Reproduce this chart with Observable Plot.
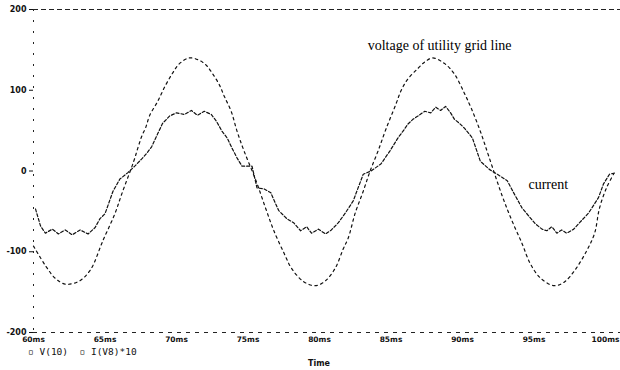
<!DOCTYPE html>
<html>
<head>
<meta charset="utf-8">
<script src="https://cdn.jsdelivr.net/npm/d3@7"></script>
<script src="https://cdn.jsdelivr.net/npm/@observablehq/plot@0.6"></script>
<style>
  body { margin: 0; background: white; width: 620px; height: 370px; overflow: hidden; }
  #legend { height: 12px; line-height: 12px; font-family: "DejaVu Sans Mono", monospace; font-size: 9.5px; padding-left: 28px; color: #111; white-space: pre; }
  #xlabel { height: 12px; line-height: 12px; font-family: "DejaVu Sans", sans-serif; font-size: 8px; font-weight: bold; color: #111; position: relative; left: 308px; }
</style>
</head>
<body>
<div id="chart"></div>
<div id="legend">▫ V(10)  ▫ I(V8)*10</div>
<div id="xlabel">Time</div>
<script>
// Series: voltage of the utility grid line, V(10)
const timeV = [60.00, 60.83, 61.53, 62.22, 63.13, 63.96, 64.86, 65.69, 66.18, 67.01, 67.29, 67.57, 67.85, 68.13, 68.68, 69.17, 69.72, 70.21, 70.90, 71.60, 72.08, 72.50, 72.99, 73.33, 73.82, 74.24, 74.72, 75.56, 76.25, 76.81, 77.50, 78.06, 78.89, 79.72, 80.42, 81.11, 81.67, 82.01, 82.50, 83.06, 83.54, 84.10, 84.65, 85.35, 85.69, 86.18, 86.88, 87.36, 87.92, 88.75, 89.44, 90.14, 90.63, 91.25, 91.88, 92.78, 93.47, 94.17, 94.72, 95.42, 96.39, 97.08, 97.85, 98.68, 99.24, 99.58, 100.07, 100.56];
const voltage = [-93, -117, -133, -140, -137, -123, -86, -53, -28, 12, 28, 43, 54, 69, 86, 104, 121, 133, 140, 137, 131, 121, 107, 93, 74, 49, 25, -12, -47, -74, -101, -121, -137, -142, -136, -120, -96, -83, -52, -25, 0, 25, 52, 83, 99, 114, 127, 135, 140, 133, 120, 96, 77, 49, 16, -31, -62, -90, -114, -132, -142, -138, -123, -99, -77, -46, -21, -4];

// Series: current, I(V8)*10
const timeI = [60.14, 60.49, 60.83, 61.32, 61.74, 62.22, 62.71, 63.26, 63.82, 64.31, 64.65, 65.00, 65.56, 66.04, 66.60, 67.08, 67.57, 67.92, 68.26, 68.68, 69.03, 69.51, 70.00, 70.56, 71.04, 71.46, 71.94, 72.43, 72.78, 73.19, 73.54, 73.89, 74.24, 74.58, 75.28, 75.63, 76.11, 76.60, 76.94, 77.15, 77.71, 78.19, 78.68, 79.10, 79.44, 79.93, 80.42, 80.83, 81.32, 81.81, 82.36, 82.57, 83.06, 83.61, 84.31, 84.93, 85.49, 85.83, 86.18, 86.53, 86.88, 87.36, 87.78, 88.13, 88.47, 88.82, 89.17, 89.44, 89.79, 90.14, 90.69, 91.25, 91.88, 92.43, 93.13, 93.61, 94.17, 94.65, 95.07, 95.56, 95.90, 96.25, 96.60, 96.94, 97.29, 97.78, 98.19, 98.82, 99.51, 99.86, 100.28, 100.76];
const current = [-47, -68, -77, -72, -78, -73, -79, -73, -78, -70, -59, -53, -25, -10, -2, 6, 15, 22, 30, 46, 59, 68, 72, 70, 75, 69, 74, 70, 62, 49, 41, 28, 16, 6, 6, -21, -22, -27, -41, -49, -59, -64, -74, -69, -77, -72, -78, -73, -64, -52, -37, -27, -4, 0, 9, 25, 41, 49, 58, 64, 68, 74, 72, 79, 75, 80, 72, 64, 59, 53, 41, 12, 2, -4, -12, -28, -46, -56, -65, -72, -74, -69, -77, -73, -77, -72, -64, -52, -33, -16, -4, -2];

// Axis ticks
const xTicks = [60, 65, 70, 75, 80, 85, 90, 95, 100];
const yTicks = [-200, -100, 0, 100, 200];

// Annotations
const noteText = ["voltage of utility grid line", "current"];
const noteTime = [88.4, 96.0];
const noteValue = [155, -17];

const vData = timeV.map((t, i) => ({t, v: voltage[i]}));
const iData = timeI.map((t, i) => ({t, v: current[i]}));
const notes = noteText.map((s, i) => ({s, t: noteTime[i], v: noteValue[i]}));

const chart = Plot.plot({
  width: 620,
  height: 346,
  marginLeft: 33,
  marginRight: 0,
  marginTop: 9,
  marginBottom: 14,
  style: {fontFamily: "DejaVu Sans", fontSize: "8px", fontWeight: "bold", background: "white", color: "#111"},
  x: {domain: [60, 101.05], label: null},
  y: {domain: [-200, 200], label: null},
  marks: [
    Plot.ruleY([200], {stroke: "#222", strokeDasharray: "5,3", strokeWidth: 1}),
    Plot.ruleY([-200], {stroke: "#222", strokeDasharray: "4,5", strokeWidth: 1}),
    Plot.ruleX([60], {stroke: "#222", strokeDasharray: "2,9", strokeWidth: 1}),
    Plot.axisX({ticks: xTicks, tickSize: 0, tickPadding: 4, fontSize: 7.5, label: null, tickFormat: d => d + "ms"}),
    Plot.axisY({ticks: yTicks, tickSize: 4, tickPadding: 3, label: null, tickFormat: d => String(d)}),
    Plot.line(vData, {x: "t", y: "v", stroke: "#111", strokeWidth: 1.2, strokeDasharray: "2.5,3.5", curve: "catmull-rom"}),
    Plot.line(iData, {x: "t", y: "v", stroke: "#111", strokeWidth: 1.2, strokeDasharray: "3,2"}),
    Plot.text(notes, {x: "t", y: "v", text: "s", fontFamily: "Liberation Serif", fontSize: 14, fontWeight: "normal", fill: "#000"})
  ]
});
document.getElementById("chart").appendChild(chart);
</script>
</body>
</html>
